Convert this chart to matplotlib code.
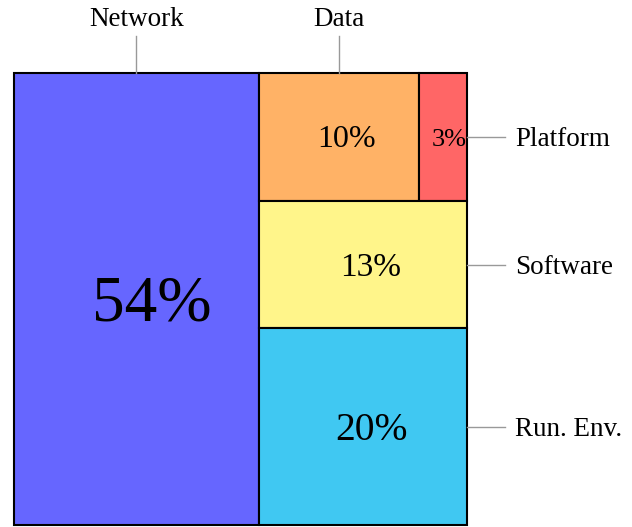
import matplotlib
matplotlib.use("Agg")
import matplotlib.pyplot as plt
import matplotlib.patches as mpatches

plt.rcParams['font.family'] = ['Liberation Serif', 'DejaVu Serif']

# shares in percent
left_names = ['Network']
left_values = [54]
# right column, rows from top to bottom
row_names = [['Data', 'Platform'], ['Software'], ['Run. Env.']]
row_values = [[10, 3], [13], [20]]

colors = {'Network': '#6666ff', 'Data': '#ffb266', 'Platform': '#ff6666',
          'Software': '#fff58a', 'Run. Env.': '#40c8f2'}
pct_size = {'Network': 47, 'Data': 23, 'Platform': 19,
            'Software': 24, 'Run. Env.': 28.5}
# where the name goes: above the box or to the right of the row
label_side = {'Network': 'top', 'Data': 'top', 'Platform': 'right',
              'Software': 'right', 'Run. Env.': 'right'}
NAME_SIZE = 19.5

W, H = 632, 527
fig = plt.figure(figsize=(W / 100, H / 100), dpi=100)
ax = fig.add_axes([0, 0, 1, 1])
ax.set_xlim(0, W)
ax.set_ylim(H, 0)
ax.set_axis_off()

# treemap area in pixels
X0, Y0, BW, BH = 14, 73, 453, 452
total = sum(left_values) + sum(sum(r) for r in row_values)

boxes = []
x = X0
for name, v in zip(left_names, left_values):
    w = BW * v / total
    boxes.append((name, v, x, Y0, w, BH))
    x += w
col_w = X0 + BW - x
col_total = sum(sum(r) for r in row_values)
y = Y0
for names, vals in zip(row_names, row_values):
    h = BH * sum(vals) / col_total
    xx = x
    for name, v in zip(names, vals):
        w = col_w * v / sum(vals)
        boxes.append((name, v, xx, y, w, h))
        xx += w
    y += h

for name, v, bx, by, bw, bh in boxes:
    ax.add_patch(mpatches.Rectangle((bx, by), bw, bh, facecolor=colors[name],
                                    edgecolor='black', linewidth=1.5))
    fs = pct_size[name]
    em = fs * 100 / 72
    ax.text(bx + bw / 2 + 0.23 * em, by + bh / 2 + 0.33 * em, '%d%%' % v,
            fontsize=fs, ha='center', va='baseline')
    if label_side[name] == 'top':
        cx = bx + bw / 2
        ax.plot([cx, cx], [by, by - 37], color='#999999', lw=1, clip_on=False)
        ax.text(cx, by - 47, name, fontsize=NAME_SIZE, ha='center', va='baseline')
    else:
        cy = by + bh / 2
        rx = X0 + BW
        ax.plot([rx, rx + 38], [cy, cy], color='#999999', lw=1, clip_on=False)
        ax.text(rx + 48, cy + 9, name, fontsize=NAME_SIZE, ha='left', va='baseline')

fig.savefig('out.png', dpi=100)
